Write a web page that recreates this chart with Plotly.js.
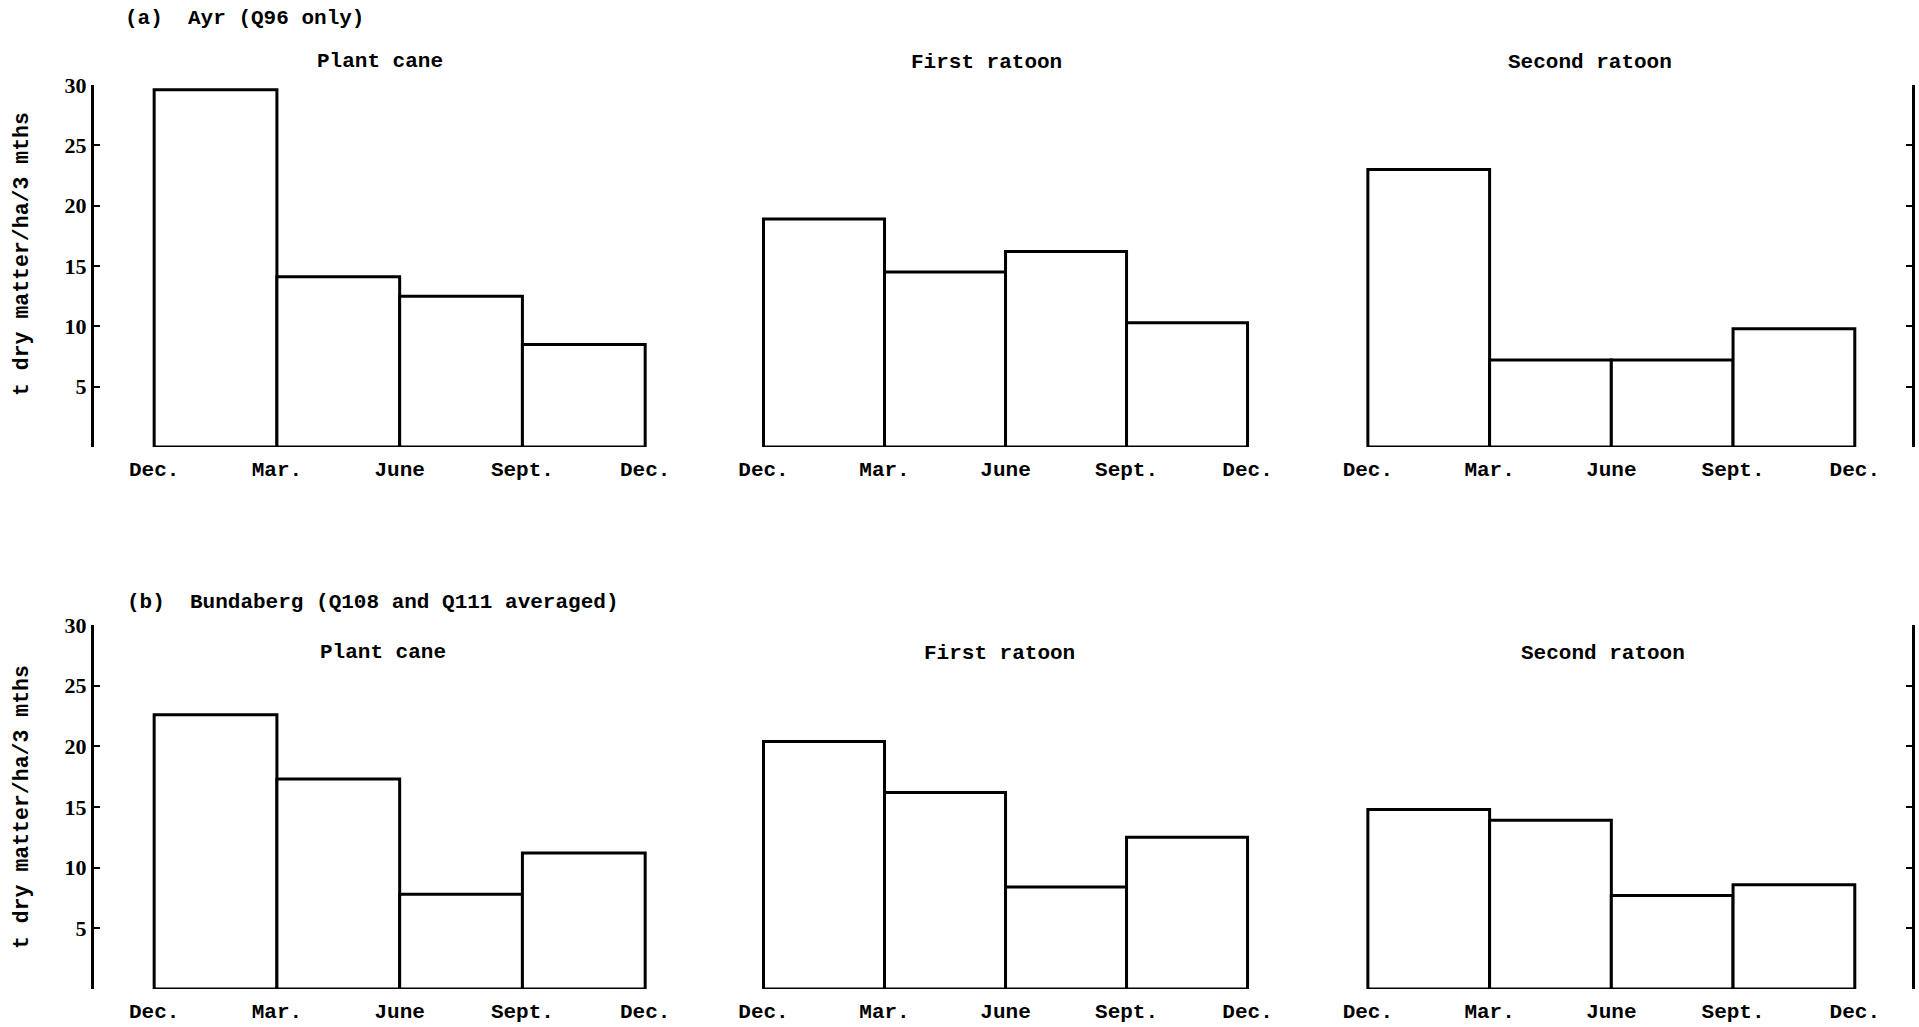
<!DOCTYPE html>
<html>
<head>
<meta charset="utf-8">
<script src="https://cdn.plot.ly/plotly-3.0.1.min.js"></script>
<style>html,body{margin:0;padding:0;background:#fff;}#chart{width:1919px;height:1027px;}</style>
</head>
<body>
<div id="chart"></div>
<script>
// ---- data ----
var quarterStarts = [0, 1, 2, 3];
var quarterTickVals = [0, 1, 2, 3, 4];
var quarterLabels = ['Dec.', 'Mar.', 'June', 'Sept.', 'Dec.'];
var yTickVals = [0, 5, 10, 15, 20, 25, 30];
var yTickText = ['', '5', '10', '15', '20', '25', '30'];

var ayrPlant  = [29.6, 14.1, 12.5, 8.5];
var ayrFirst  = [18.9, 14.5, 16.2, 10.3];
var ayrSecond = [23.0, 7.2, 7.2, 9.8];
var bunPlant  = [22.6, 17.3, 7.8, 11.2];
var bunFirst  = [20.4, 16.2, 8.4, 12.5];
var bunSecond = [14.8, 13.9, 7.7, 8.6];

var panelTitles = ['Plant cane', 'First ratoon', 'Second ratoon'];
var rowTitles = ['(a)  Ayr (Q96 only)', '(b)  Bundaberg (Q108 and Q111 averaged)'];
var yTitle = 't dry matter/ha/3 mths';

// ---- layout helpers ----
var W = 1919, H = 1027;
function px(x) { return x / W; }
function py(y) { return 1 - y / H; }

var series = [ayrPlant, ayrFirst, ayrSecond, bunPlant, bunFirst, bunSecond];
var traces = series.map(function (vals, i) {
  var n = i + 1;
  return {
    type: 'bar',
    x: quarterStarts,
    y: vals,
    offset: 0,
    width: 1,
    marker: { color: '#ffffff', line: { color: '#000000', width: 3 } },
    xaxis: 'x' + (n === 1 ? '' : n),
    yaxis: 'y' + (n === 1 ? '' : n),
    hoverinfo: 'skip'
  };
});

var colDomains = [[px(94), px(682)], [px(703), px(1302)], [px(1307), px(1912)]];
var colRanges = [[-0.49, 4.3], [-0.5, 4.45], [-0.5, 4.47]];
var rowDomains = [[py(447), py(85)], [py(989), py(625)]];

var monoFam = 'Liberation Mono, DejaVu Sans Mono, monospace';
var monoFont = { family: monoFam, size: 21, color: '#000', weight: 'bold' };

var layout = {
  width: W, height: H,
  margin: { l: 0, r: 0, t: 0, b: 0 },
  paper_bgcolor: '#fff', plot_bgcolor: 'rgba(0,0,0,0)',
  showlegend: false,
  barmode: 'overlay',
  annotations: []
};

for (var r = 0; r < 2; r++) {
  for (var c = 0; c < 3; c++) {
    var n = r * 3 + c + 1;
    var xk = 'xaxis' + (n === 1 ? '' : n);
    var yk = 'yaxis' + (n === 1 ? '' : n);
    layout[xk] = {
      domain: colDomains[c],
      range: colRanges[c],
      anchor: 'y' + (n === 1 ? '' : n),
      showline: false, zeroline: false, showgrid: false,
      tickmode: 'array', tickvals: quarterTickVals, ticktext: quarterLabels,
      ticks: 'outside', ticklen: 3, tickcolor: 'rgba(0,0,0,0)',
      tickfont: monoFont,
      fixedrange: true
    };
    var ya = {
      domain: rowDomains[r],
      range: [0, 30],
      anchor: 'x' + (n === 1 ? '' : n),
      zeroline: false, showgrid: false,
      fixedrange: true
    };
    if (c === 0) {
      ya.showline = true; ya.linewidth = 3; ya.linecolor = '#000';
      ya.ticks = 'inside'; ya.ticklen = 6; ya.tickwidth = 2; ya.tickcolor = '#000';
      ya.tickmode = 'array'; ya.tickvals = yTickVals; ya.ticktext = yTickText;
      ya.tickfont = { family: 'Liberation Serif, serif', size: 22, color: '#000', weight: 'bold' };
    } else if (c === 2) {
      ya.side = 'right';
      ya.showline = true; ya.linewidth = 3; ya.linecolor = '#000';
      ya.ticks = 'inside'; ya.ticklen = 6; ya.tickwidth = 2; ya.tickcolor = '#000';
      ya.tickmode = 'array'; ya.tickvals = yTickVals;
      ya.showticklabels = false;
    } else {
      ya.showline = false; ya.ticks = ''; ya.showticklabels = false;
    }
    layout[yk] = ya;
  }
}

// text positions (pixels)
var rowTitlePos = [[123, 18], [125, 602]];
var panelTitlePos = [[[380, 61], [986, 62], [1590, 62]], [[383, 652], [999, 653], [1603, 653]]];
var yTitlePos = [[22, 254], [22, 807]];

for (var r2 = 0; r2 < 2; r2++) {
  layout.annotations.push({
    xref: 'paper', yref: 'paper', x: px(rowTitlePos[r2][0]), y: py(rowTitlePos[r2][1]),
    xanchor: 'left', yanchor: 'middle', showarrow: false,
    text: rowTitles[r2].replace(/  /g, '&nbsp;&nbsp;'), font: monoFont
  });
  for (var c2 = 0; c2 < 3; c2++) {
    layout.annotations.push({
      xref: 'paper', yref: 'paper', x: px(panelTitlePos[r2][c2][0]), y: py(panelTitlePos[r2][c2][1]),
      xanchor: 'center', yanchor: 'middle', showarrow: false,
      text: panelTitles[c2], font: monoFont
    });
  }
  layout.annotations.push({
    xref: 'paper', yref: 'paper', x: px(yTitlePos[r2][0]), y: py(yTitlePos[r2][1]),
    xanchor: 'center', yanchor: 'middle', showarrow: false, textangle: -90,
    text: yTitle, font: { family: monoFam, size: 21.5, color: '#000', weight: 'bold' }
  });
}

Plotly.newPlot('chart', traces, layout, { staticPlot: true, displayModeBar: false });
</script>
</body>
</html>
